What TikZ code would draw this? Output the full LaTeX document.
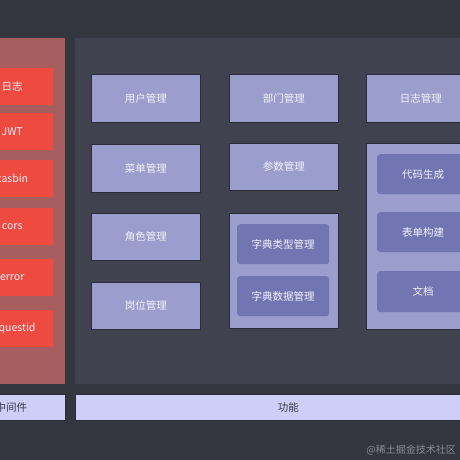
\documentclass[tikz,border=0pt]{standalone}
\usepackage{fontspec}
\setmainfont{Noto Sans CJK SC}
\definecolor{bgdark}{HTML}{34363F}
\definecolor{panelfunc}{HTML}{40424F}
\definecolor{panelmw}{HTML}{A65E5E}
\definecolor{mwred}{HTML}{EE4A40}
\definecolor{funcfill}{HTML}{9B9DCC}
\definecolor{subfill}{HTML}{7175B2}
\definecolor{tagfill}{HTML}{CFCEF8}
\definecolor{edgedark}{HTML}{2C2D38}
\definecolor{textlight}{HTML}{F2F2FA}
\definecolor{textdark}{HTML}{3A3A48}
\definecolor{markgray}{HTML}{8A8B95}
\begin{document}
\begin{tikzpicture}[x=1pt,y=-1pt,
    every node/.style={font=\fontsize{10.5}{12}\selectfont, inner sep=0pt, anchor=north west},
    funcbox/.style={fill=funcfill, draw=edgedark, line width=0.8pt, text=textlight},
    subbox/.style={fill=subfill, rounded corners=3pt, text=textlight},
    mwbox/.style={fill=mwred, text=textlight, minimum width=82pt, minimum height=37pt},
    tagbox/.style={fill=tagfill, draw=edgedark, line width=0.8pt, text=textdark, minimum height=26pt}]
  \useasboundingbox (0,0) rectangle (460,460);
  \clip (0,0) rectangle (460,460);
  \fill[bgdark] (0,0) rectangle (460,460);
  % panels
  \fill[panelmw] (-60,38) rectangle (65,384);
  \fill[panelfunc] (75,38) rectangle (520,384);
  % middleware
  \node[mwbox] (rizhi)     at (-29,68)  {日志};
  \node[mwbox] (jwt)       at (-29,113) {JWT};
  \node[mwbox] (casbin)    at (-29,160) {casbin};
  \node[mwbox] (cors)      at (-29,208) {cors};
  \node[mwbox] (error)     at (-29,259) {error};
  \node[mwbox] (requestid) at (-29,310) {requestid};
  % first column
  \node[funcbox, minimum width=109pt, minimum height=48pt] (yonghu) at (91,74)  {用户管理};
  \node[funcbox, minimum width=109pt, minimum height=48pt] (caidan) at (91,144) {菜单管理};
  \node[funcbox, minimum width=109pt, minimum height=47pt] (jiaose) at (91,213) {角色管理};
  \node[funcbox, minimum width=109pt, minimum height=47pt] (gangwei) at (91,282) {岗位管理};
  % second column
  \node[funcbox, minimum width=109pt, minimum height=48pt] (bumen) at (229,74)  {部门管理};
  \node[funcbox, minimum width=109pt, minimum height=47pt] (canshu) at (229,143) {参数管理};
  \node[funcbox, minimum width=109pt, minimum height=115pt] (zidian) at (229,213) {};
  \node[subbox, minimum width=92pt, minimum height=40pt] (zdleixing) at (237,224) {字典类型管理};
  \node[subbox, minimum width=92pt, minimum height=40pt] (zdshuju)   at (237,276) {字典数据管理};
  % third column
  \node[funcbox, minimum width=109pt, minimum height=48pt] (rizhiguanli) at (366,74) {日志管理};
  \node[funcbox, minimum width=109pt, minimum height=186pt] (gongju) at (366,143) {};
  \node[subbox, minimum width=92pt, minimum height=40pt] (daima)  at (377,154) {代码生成};
  \node[subbox, minimum width=92pt, minimum height=40pt] (biaodan) at (377,212) {表单构建};
  \node[subbox, minimum width=92pt, minimum height=41pt] (wendang) at (377,271) {文档};
  % bottom labels
  \node[tagbox, minimum width=108pt] (zhongjianjian) at (-43,394) {中间件};
  \node[tagbox, minimum width=426pt] (gongneng) at (75,394) {功能};
  % watermark
  \node[text=markgray, anchor=east, font=\fontsize{10}{12}\selectfont] (mark) at (456,450) {@稀土掘金技术社区};
\end{tikzpicture}
\end{document}
